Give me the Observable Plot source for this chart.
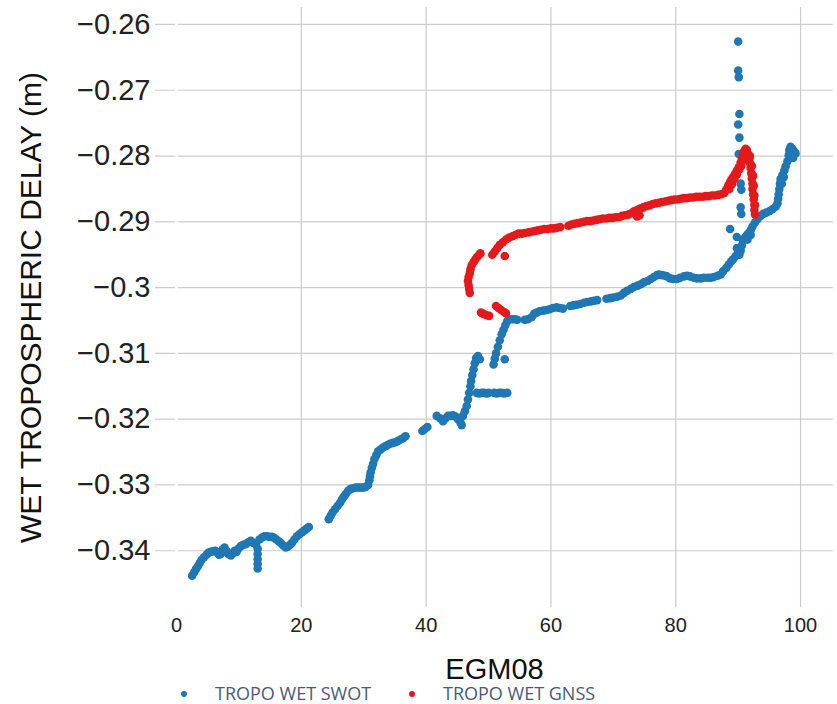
<!DOCTYPE html>
<html>
<head>
<meta charset="utf-8">
<script src="https://cdn.jsdelivr.net/npm/d3@7"></script>
<script src="https://cdn.jsdelivr.net/npm/@observablehq/plot@0.6"></script>
<style>
  body { margin: 0; background: #fff; }
  #chart svg { display: block; overflow: visible; }
  #legend { position: relative; width: 837px; height: 22px; margin-top: -5px; font-family: "Open Sans", sans-serif; font-size: 18px; color: #4a5a78; }
  #legend .sw { position: absolute; top: 8px; width: 6px; height: 6px; border-radius: 50%; }
  #legend .lb { position: absolute; top: -2px; white-space: nowrap; }
</style>
</head>
<body>
<div id="chart"></div>
<div id="legend"></div>
<script>
// ---- data ----
const seriesNames = ["TROPO WET SWOT", "TROPO WET GNSS"];
const seriesColors = ["#1f77b4", "#e31a1c"];
const xTicks = [0, 20, 40, 60, 80, 100];
const yTicks = [-0.34, -0.33, -0.32, -0.31, -0.3, -0.29, -0.28, -0.27, -0.26];
const xTitle = "EGM08";
const yTitle = "WET TROPOSPHERIC DELAY (m)";

const swotX = [
  2.5, 2.8, 3.1, 3.4, 3.7, 4.0, 4.4, 4.8, 5.1, 5.4, 5.8, 6.2, 6.5, 6.8, 7.1, 7.4, 7.7, 8.0, 8.3, 8.7,
  9.0, 9.3, 9.6, 9.9, 10.3, 10.7, 11.1, 11.5, 11.9, 12.3, 12.7, 13.0, 13.0, 13.0, 13.0, 13.0, 13.3, 13.7, 14.1, 14.5,
  14.9, 15.3, 15.6, 16.0, 16.4, 16.7, 17.1, 17.5, 17.8, 18.2, 18.5, 18.9, 19.3, 19.7, 20.1, 20.5, 20.9, 21.2,
  24.4, 24.7, 25.0, 25.4, 25.8, 26.2, 26.5, 26.8, 27.1, 27.5, 27.9, 28.3, 28.7, 29.1, 29.5, 29.9, 30.3, 30.7,
  30.9, 31.0, 31.1, 31.3, 31.5, 31.7, 32.0, 32.3, 32.7, 33.1, 33.5, 33.9, 34.3, 34.7, 35.1, 35.5, 35.9, 36.3, 36.7,
  39.4, 39.8, 40.2, 41.7, 42.3, 42.7, 43.1, 43.5, 43.9, 44.3, 44.7, 45.1, 45.5, 45.7, 45.9, 46.2, 46.5, 46.7, 46.9,
  47.1, 47.2, 47.4, 47.6, 47.8, 48.0, 48.3, 48.6,
  48.1, 48.5, 48.9, 49.3, 49.7, 50.0, 50.9, 51.3, 51.7, 52.1, 52.5, 53.0,
  50.8, 51.0, 51.2, 51.5, 51.8, 52.1, 52.4, 52.7, 53.0, 53.4, 53.8, 54.2, 54.6, 52.6,
  55.8, 56.3, 56.9, 57.3, 57.7, 58.2, 58.8, 59.3, 59.8, 60.3, 60.9, 61.4, 61.9,
  63.1, 63.6, 64.1, 64.7, 65.3, 65.8, 66.4, 66.9, 67.4,
  68.9, 69.5, 70.0, 70.6, 71.2, 71.7, 72.2, 72.8, 73.3, 73.9, 74.4, 74.9, 75.5, 76.0, 76.5, 77.0, 77.3, 77.8,
  78.3, 78.6, 79.1, 79.6, 80.2, 80.7, 81.3, 81.8, 82.3, 82.9, 83.4, 84.0, 84.5, 85.1, 85.6, 86.1, 86.7, 87.2,
  87.6, 88.1, 88.5, 88.9, 89.2, 89.6, 90.0, 90.4, 90.6, 90.8, 91.1, 91.4, 91.7, 92.0, 92.3, 92.7, 93.1, 93.6,
  94.0, 94.5, 95.0, 95.5, 96.0, 96.3, 96.4, 96.5, 96.6, 96.7, 96.8, 97.1, 97.4, 97.6, 97.9, 98.1, 98.2, 98.4,
  98.7, 99.0, 99.2, 89.8, 90.2, 91.5, 92.0, 97.0, 97.3, 98.5, 98.8,
  90.0, 90.0, 90.1, 90.2, 90.0, 90.2, 90.1, 90.4, 90.5, 90.4, 90.5, 88.7, 89.8
];
const swotY = [
  -0.3438, -0.3433, -0.3428, -0.3424, -0.3419, -0.3414, -0.3410, -0.3406, -0.3403, -0.3402, -0.3401, -0.3400, -0.3402, -0.3406, -0.3405, -0.3398, -0.3395, -0.3400, -0.3405, -0.3407,
  -0.3404, -0.3400, -0.3402, -0.3397, -0.3393, -0.3391, -0.3390, -0.3387, -0.3385, -0.3388, -0.3390, -0.3397, -0.3405, -0.3413, -0.3420, -0.3427, -0.3383, -0.3380, -0.3378, -0.3378,
  -0.3379, -0.3379, -0.3380, -0.3383, -0.3386, -0.3388, -0.3392, -0.3395, -0.3394, -0.3391, -0.3388, -0.3383, -0.3378, -0.3375, -0.3372, -0.3369, -0.3366, -0.3364,
  -0.3352, -0.3347, -0.3342, -0.3337, -0.3332, -0.3327, -0.3322, -0.3318, -0.3314, -0.3309, -0.3306, -0.3305, -0.3304, -0.3304, -0.3304, -0.3304, -0.3303, -0.3300,
  -0.3293, -0.3287, -0.3281, -0.3274, -0.3268, -0.3261, -0.3255, -0.3249, -0.3246, -0.3243, -0.3241, -0.3239, -0.3237, -0.3236, -0.3235, -0.3233, -0.3231, -0.3229, -0.3226,
  -0.3218, -0.3215, -0.3212, -0.3195, -0.3199, -0.3203, -0.3199, -0.3195, -0.3195, -0.3194, -0.3196, -0.3200, -0.3205, -0.3209, -0.3195, -0.3188, -0.3180, -0.3170, -0.3160,
  -0.3150, -0.3142, -0.3133, -0.3124, -0.3115, -0.3107, -0.3104, -0.3109,
  -0.3160, -0.3161, -0.3160, -0.3160, -0.3161, -0.3160, -0.3160, -0.3161, -0.3160, -0.3160, -0.3161, -0.3160,
  -0.3117, -0.3108, -0.3100, -0.3090, -0.3080, -0.3071, -0.3064, -0.3057, -0.3051, -0.3048, -0.3048, -0.3048, -0.3049, -0.3109,
  -0.3049, -0.3048, -0.3045, -0.3040, -0.3038, -0.3036, -0.3035, -0.3034, -0.3033, -0.3031, -0.3030, -0.3031, -0.3032,
  -0.3028, -0.3027, -0.3026, -0.3025, -0.3023, -0.3022, -0.3021, -0.3020, -0.3019,
  -0.3017, -0.3016, -0.3015, -0.3014, -0.3012, -0.3008, -0.3005, -0.3002, -0.2999, -0.2997, -0.2995, -0.2992, -0.2990, -0.2987, -0.2984, -0.2981, -0.2980, -0.2981,
  -0.2982, -0.2983, -0.2986, -0.2987, -0.2987, -0.2985, -0.2983, -0.2982, -0.2983, -0.2985, -0.2986, -0.2986, -0.2985, -0.2985, -0.2985, -0.2984, -0.2982, -0.2980,
  -0.2975, -0.2970, -0.2965, -0.2960, -0.2957, -0.2952, -0.2948, -0.2944, -0.2936, -0.2929, -0.2924, -0.2920, -0.2917, -0.2913, -0.2907, -0.2901, -0.2896, -0.2891,
  -0.2888, -0.2886, -0.2884, -0.2881, -0.2877, -0.2872, -0.2865, -0.2858, -0.2850, -0.2842, -0.2835, -0.2829, -0.2822, -0.2816, -0.2808, -0.2799, -0.2791, -0.2786,
  -0.2789, -0.2793, -0.2796, -0.2940, -0.2950, -0.2927, -0.2920, -0.2842, -0.2832, -0.2800, -0.2803,
  -0.2626, -0.2670, -0.2680, -0.2736, -0.2752, -0.2772, -0.2797, -0.2842, -0.2851, -0.2878, -0.2888, -0.2911, -0.2923
];

const gnssX = [
  48.8, 49.2, 49.7, 50.1, 51.2, 51.6, 52.0, 52.5, 52.8,
  47.0, 46.9, 46.8, 46.7, 46.8, 47.0, 47.1, 47.3, 47.6, 47.9, 48.2, 48.5, 48.7,
  50.6, 51.0, 51.4, 51.8, 52.3, 52.8, 52.6, 53.3, 53.8, 54.3, 54.8, 55.3, 55.8, 56.4,
  56.9, 57.4, 57.9, 58.4, 58.9, 59.5, 60.0, 60.5, 61.0, 61.5,
  62.8, 63.3, 63.8, 64.3, 64.8, 65.3, 65.8, 66.3, 66.8, 67.3, 67.8, 68.3, 68.9, 69.4, 69.9, 70.4, 70.9, 71.4,
  71.9, 72.4, 72.9, 73.3, 73.8, 73.8, 74.2, 74.3, 74.8, 75.3, 75.8, 76.3, 76.8, 77.3, 77.8, 78.3, 78.8, 79.3,
  79.8, 80.3, 80.8, 81.3, 81.8, 82.3, 82.8, 83.3, 83.8, 84.3, 84.8, 85.3, 85.8, 86.3, 86.8, 87.3, 87.8,
  88.1, 88.4, 88.7, 88.9, 89.2, 89.5, 89.8, 90.1, 90.4, 90.6, 90.8, 91.0, 91.2, 91.4, 91.6, 91.8, 91.9, 92.0,
  92.1, 92.2, 92.3, 92.3, 92.4, 92.5, 92.6, 92.6, 92.7,
  88.6, 89.0, 89.4, 89.8, 90.2, 90.5, 90.8, 91.1, 91.3, 91.9, 92.2, 92.4, 92.5, 92.6, 92.7
];
const gnssY = [
  -0.3038, -0.3040, -0.3042, -0.3043, -0.3028, -0.3031, -0.3034, -0.3037, -0.3039,
  -0.3008, -0.3002, -0.2996, -0.2990, -0.2984, -0.2978, -0.2972, -0.2966, -0.2961, -0.2957, -0.2953, -0.2950, -0.2948,
  -0.2950, -0.2945, -0.2940, -0.2935, -0.2931, -0.2927, -0.2952, -0.2924, -0.2922, -0.2920, -0.2918, -0.2918, -0.2917, -0.2916,
  -0.2915, -0.2914, -0.2913, -0.2912, -0.2911, -0.2911, -0.2910, -0.2910, -0.2909, -0.2908,
  -0.2906, -0.2904, -0.2903, -0.2902, -0.2901, -0.2900, -0.2899, -0.2899, -0.2898, -0.2897, -0.2896, -0.2895, -0.2895, -0.2894, -0.2894, -0.2893, -0.2893, -0.2891,
  -0.2890, -0.2889, -0.2887, -0.2884, -0.2882, -0.2892, -0.2890, -0.2880, -0.2878, -0.2876, -0.2875, -0.2873, -0.2872, -0.2871, -0.2870, -0.2869, -0.2868, -0.2867,
  -0.2866, -0.2866, -0.2865, -0.2864, -0.2864, -0.2863, -0.2863, -0.2862, -0.2862, -0.2862, -0.2861, -0.2861, -0.2860, -0.2860, -0.2859, -0.2858, -0.2856,
  -0.2851, -0.2845, -0.2840, -0.2836, -0.2832, -0.2827, -0.2822, -0.2817, -0.2810, -0.2803, -0.2797, -0.2792, -0.2789, -0.2791, -0.2797, -0.2804, -0.2811, -0.2818,
  -0.2826, -0.2834, -0.2842, -0.2850, -0.2858, -0.2866, -0.2874, -0.2882, -0.2889,
  -0.2850, -0.2843, -0.2835, -0.2828, -0.2820, -0.2815, -0.2806, -0.2799, -0.2795, -0.2800, -0.2815, -0.2830, -0.2845, -0.2860, -0.2875
];

// ---- build table ----
const points = [
  ...swotX.map((x, i) => ({x, y: swotY[i], s: seriesNames[0]})),
  ...gnssX.map((x, i) => ({x, y: gnssY[i], s: seriesNames[1]}))
];

const minus = d => (d < 0 ? "\u2212" : "") + String(Math.abs(d));

const chart = Plot.plot({
  width: 837,
  height: 688,
  marginTop: 7,
  marginLeft: 155,
  marginRight: 4,
  marginBottom: 81,
  style: {fontFamily: "'Liberation Sans', Arial, sans-serif", color: "#222", background: "#fff"},
  x: {domain: [-3.37, 105.28]},
  y: {domain: [-0.34863, -0.25742]},
  color: {domain: seriesNames, range: seriesColors},
  marks: [
    Plot.gridX(xTicks, {stroke: "#cccccc", strokeOpacity: 1, strokeWidth: 1.2}),
    Plot.gridY(yTicks, {stroke: "#cccccc", strokeOpacity: 1, strokeWidth: 1.2}),
    Plot.ruleX([0], {stroke: "#ffffff", strokeWidth: 3}),
    Plot.axisX(xTicks, {tickSize: 0, tickPadding: 10, fontSize: 20, tickFormat: d => String(d), label: null}),
    Plot.axisY(yTicks, {tickSize: 0, tickPadding: 5, fontSize: 29, tickFormat: minus, label: null}),
    Plot.dot(points, {x: "x", y: "y", fill: "s", r: 4.3, stroke: null}),
    Plot.text([xTitle], {frameAnchor: "bottom", dy: 62, fontSize: 29, lineAnchor: "middle", textAnchor: "middle", fill: "#111"}),
    Plot.text([yTitle], {frameAnchor: "left", rotate: -90, dx: -124, fontSize: 30, lineAnchor: "middle", textAnchor: "middle", fill: "#111"})
  ]
});
document.getElementById("chart").appendChild(chart);

// ---- legend ----
const legend = document.getElementById("legend");
const legendPos = [{dot: 181, text: 215}, {dot: 409, text: 443}];
seriesNames.forEach((name, i) => {
  const sw = document.createElement("span");
  sw.className = "sw";
  sw.style.left = legendPos[i].dot + "px";
  sw.style.background = seriesColors[i];
  legend.appendChild(sw);
  const lb = document.createElement("span");
  lb.className = "lb";
  lb.style.left = legendPos[i].text + "px";
  lb.textContent = name;
  legend.appendChild(lb);
});
</script>
</body>
</html>
